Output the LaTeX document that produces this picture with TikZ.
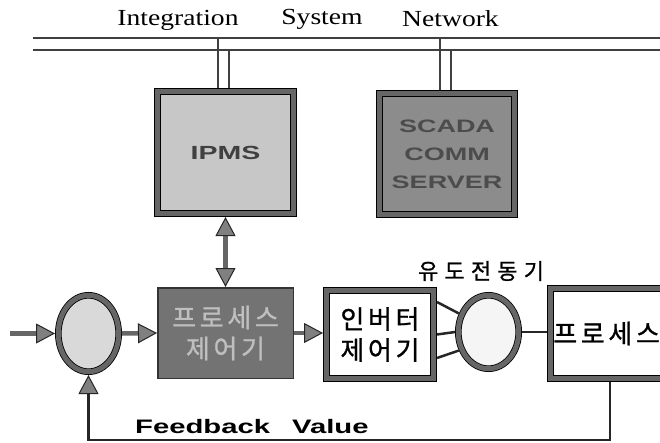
\documentclass[tikz,border=0pt]{standalone}
\usepackage{fontspec}
\usetikzlibrary{arrows.meta}
\usetikzlibrary{shapes.geometric}
\newfontfamily\netfont[FakeStretch=1.2]{Liberation Serif}
\newfontfamily\widesans[FakeStretch=1.5]{Liberation Sans}
\newfontfamily\kor[LetterSpace=14, FakeBold=1]{Noto Sans CJK KR}
\newfontfamily\korwide[LetterSpace=28, FakeBold=1]{Noto Sans CJK KR}
\tikzset{bigtip/.tip={Triangle[length=19pt, width=20pt, fill=black!50, color=black!85, line width=1pt]}}

\begin{document}
\begin{tikzpicture}[x=1pt, y=1pt,
    ring/.style={draw=black, double=black!60, double distance=5pt, line width=0.8pt, outer sep=3.3pt, inner sep=0pt},
    bus/.style={line width=2.5pt, draw=black!75},
    arr/.style={line width=4.5pt, draw=black!60, -bigtip},
    wire/.style={line width=2.5pt, draw=black!85},
    netlabel/.style={font=\netfont\fontsize{23}{23}\selectfont, anchor=base},
    boxtext/.style={font=\widesans\bfseries\fontsize{18}{28}\selectfont, align=center},
    kortext/.style={font=\kor\fontsize{26}{31}\selectfont, align=center}]

    \useasboundingbox (0,0) rectangle (660,442);
    \clip (0,0) rectangle (660,442);

    % network
    \coordinate (busAw) at (33,404);
    \coordinate (busAe) at (660,404);
    \coordinate (busBw) at (33,392);
    \coordinate (busBe) at (660,392);
    \draw[bus] (busAw) -- (busAe);
    \draw[bus] (busBw) -- (busBe);
    \node[netlabel] (lint) at (178,416) {Integration};
    \node[netlabel] (lsys) at (322,417) {System};
    \node[netlabel] (lnet) at (450.5,415) {Network};

    \node[ring, fill=black!22, minimum width=136.4pt, minimum height=122.4pt, boxtext, font=\widesans\bfseries\fontsize{19}{28}\selectfont, text=black!75] (ipms) at (225.5,289.5) {IPMS};
    \node[ring, fill=black!45, minimum width=135.4pt, minimum height=121.4pt, boxtext, text=black!70] (scada) at (447,288) {SCADA\\COMM\\SERVER};

    \foreach \n/\a/\b in {ipms/-7.5/3.5, scada/-7/4} {
        \draw[bus] ([xshift=\a pt]\n.north) -- ([xshift=\a pt]\n.north |- busAw);
        \draw[bus] ([xshift=\b pt]\n.north) -- ([xshift=\b pt]\n.north |- busBw);
    }

    % control loop
    \node[ring, ellipse, fill=black!15, minimum width=60.4pt, minimum height=76.4pt] (sum) at (88.5,108.5) {};
    \node[draw=black!80, line width=1.5pt, fill=black!55, minimum width=135.5pt, minimum height=90.5pt, inner sep=0pt, kortext, text=black!25] (ctrl) at (225.5,109) {프로세스\\제어기};
    \node[ring, fill=white, minimum width=107.4pt, minimum height=88.4pt, kortext] (inv) at (380,107.5) {인버터\\제어기};
    \node[ring, ellipse, fill=black!4, minimum width=60.4pt, minimum height=73.4pt] (motor) at (488.5,110) {};
    \node[font=\korwide\fontsize{22}{22}\selectfont] (lmotor) at (481,171) {유도전동기};
    \node[ring, fill=white, anchor=west, minimum height=90.4pt, text width=134pt, inner xsep=3pt, font=\kor\fontsize{26}{26}\selectfont] (proc) at (547,108.5) {프로세스};

    \coordinate (in) at (10,108.5);
    \coordinate (fb) at (88.5,2);
    \draw[arr] (in) -- (sum.west);
    \draw[arr] (sum.east) -- (ctrl.west);
    \draw[arr] (ctrl.east) -- (ctrl.east -| inv.west);
    \draw[line width=4.5pt, draw=black!60, bigtip-bigtip] (ipms.south) -- (ctrl.north);

    \draw[wire] ([yshift=32.5pt]inv.east) -- (motor.148);
    \draw[wire] (inv.east) -- (motor.west);
    \draw[wire] ([yshift=-23.5pt]inv.east) -- (motor.212);
    \draw[wire] (motor.east) -- (motor.east -| proc.west);

    \draw[wire, -bigtip] ([xshift=63pt]proc.south west) |- (fb) -- (sum.south);
    \node[font=\widesans\bfseries\fontsize{19.5}{19.5}\selectfont, anchor=west, inner sep=0pt] (lfb) at (135,15.5) {Feedback\hspace{22pt}Value};
\end{tikzpicture}
\end{document}
